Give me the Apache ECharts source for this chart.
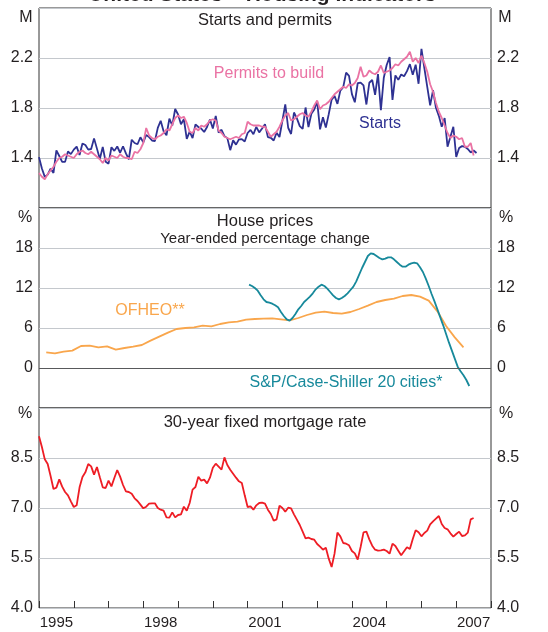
<!DOCTYPE html>
<html><head><meta charset="utf-8">
<script src="https://cdn.jsdelivr.net/npm/echarts/dist/echarts.min.js"></script>
<style>html,body{margin:0;padding:0;background:#fff}#c{width:548px;height:632px}</style>
</head><body><div id="c"></div><script>
// ---- Data ----
const yearLabels = ['1995','1996','1997','1998','1999','2000','2001','2002','2003','2004','2005','2006','2007'];
const monthlyStart = 1995; // monthly series begin Jan 1995

// Housing starts, millions (annualised), Jan 1995 - Aug 2007
const starts = [
 1.407,1.316,1.249,1.267,1.314,1.281,1.461,1.416,1.369,1.369,1.452,1.431,
 1.467,1.491,1.424,1.516,1.504,1.467,1.472,1.557,1.475,1.392,1.489,1.370,
 1.355,1.486,1.457,1.492,1.442,1.494,1.437,1.390,1.546,1.520,1.510,1.566,
 1.525,1.584,1.567,1.540,1.536,1.641,1.698,1.614,1.582,1.715,1.660,1.792,
 1.748,1.670,1.710,1.553,1.611,1.559,1.669,1.648,1.635,1.608,1.648,1.708,
 1.636,1.737,1.604,1.626,1.575,1.559,1.463,1.541,1.507,1.549,1.551,1.532,
 1.600,1.625,1.590,1.649,1.605,1.636,1.670,1.567,1.562,1.540,1.602,1.568,
 1.698,1.829,1.642,1.592,1.764,1.717,1.655,1.633,1.804,1.648,1.753,1.788,
 1.853,1.629,1.726,1.643,1.751,1.867,1.897,1.833,1.939,1.967,2.083,2.057,
 1.911,1.846,1.998,2.003,1.981,1.828,2.002,2.024,1.905,2.072,1.782,2.042,
 2.144,2.207,1.864,2.061,2.025,2.068,2.054,2.095,2.151,2.065,2.147,1.994,
 2.273,2.119,1.969,1.821,1.942,1.802,1.737,1.650,1.720,1.491,1.570,1.649,
 1.409,1.480,1.495,1.490,1.472,1.445,1.460,1.440
];
// Building permits, millions (annualised), Jan 1995 - Jul 2007
const permits = [
 1.28,1.25,1.23,1.27,1.30,1.33,1.37,1.40,1.41,1.43,1.42,1.41,
 1.40,1.43,1.45,1.46,1.44,1.43,1.45,1.43,1.41,1.39,1.36,1.40,
 1.38,1.42,1.41,1.40,1.43,1.41,1.40,1.40,1.39,1.45,1.44,1.47,
 1.52,1.64,1.58,1.56,1.55,1.57,1.58,1.60,1.63,1.62,1.67,1.72,
 1.74,1.72,1.73,1.68,1.61,1.60,1.64,1.62,1.66,1.65,1.67,1.70,
 1.71,1.70,1.62,1.60,1.57,1.56,1.55,1.56,1.57,1.56,1.59,1.60,
 1.69,1.67,1.66,1.66,1.66,1.65,1.65,1.61,1.57,1.59,1.61,1.65,
 1.70,1.74,1.76,1.70,1.71,1.73,1.75,1.76,1.74,1.73,1.77,1.82,
 1.86,1.79,1.82,1.83,1.85,1.88,1.91,1.93,1.95,1.97,1.96,1.99,
 1.98,2.00,2.04,2.13,2.05,2.06,2.10,2.08,2.07,2.09,2.14,2.08,
 2.09,2.10,2.12,2.15,2.14,2.17,2.19,2.21,2.25,2.17,2.20,2.16,
 2.22,2.16,2.09,1.99,1.93,1.84,1.77,1.72,1.66,1.60,1.56,1.58,
 1.57,1.55,1.56,1.49,1.49,1.52,1.42
];
// OFHEO house prices, year-ended % change, quarterly 1995Q1 - 2007Q1
const ofheo = [
 2.35,2.2,2.45,2.6, 3.3,3.35,3.1,3.25, 2.75,3.0,3.2,3.45, 4.1,4.7,5.3,5.85,
 6.0,6.1,6.35,6.25, 6.6,6.85,6.95,7.25, 7.35,7.4,7.45,7.3, 7.15,7.5,7.95,8.3,
 8.45,8.25,8.15,8.4, 8.85,9.35,9.9,10.2, 10.4,10.8,10.95,10.7, 10.1,8.5,6.3,4.6, 3.1
];
// S&P/Case-Shiller 20 cities, year-ended % change, monthly Jan 2001 - May 2007
const caseShillerStart = 2001;
const caseShiller = [
 12.5,12.3,12.0,11.6,10.9,10.3,9.9,9.8,9.65,9.4,9.1,8.4,
 7.8,7.3,7.1,7.5,8.1,8.8,9.3,9.9,10.3,10.7,11.2,11.8,
 12.2,12.5,12.3,11.9,11.4,10.9,10.5,10.3,10.5,10.8,11.2,11.7,
 12.2,13.0,14.0,15.0,15.9,16.8,17.2,17.1,16.8,16.5,16.3,16.4,
 16.6,16.6,16.3,15.9,15.5,15.2,15.2,15.5,15.7,15.8,15.7,15.1,
 14.4,13.4,12.3,11.1,10.0,8.8,7.6,6.4,5.1,3.8,2.6,1.4,
 0.2,-0.5,-1.1,-1.8,-2.7
];
// 30-year fixed mortgage rate, %, monthly Jan 1995 - Jul 2007
const mortgage = [
 9.15,8.83,8.46,8.32,7.96,7.57,7.61,7.86,7.64,7.48,7.38,7.20,
 7.03,7.08,7.62,7.93,8.07,8.32,8.25,8.00,8.23,7.92,7.62,7.60,
 7.82,7.65,7.90,8.14,7.94,7.69,7.50,7.48,7.43,7.29,7.21,7.10,
 6.99,7.04,7.13,7.14,7.14,7.00,6.95,6.92,6.72,6.71,6.87,6.72,
 6.79,6.81,7.04,6.92,7.15,7.55,7.63,7.94,7.82,7.85,7.74,7.91,
 8.21,8.33,8.24,8.15,8.52,8.29,8.15,8.03,7.91,7.80,7.75,7.38,
 7.03,7.05,6.95,7.08,7.15,7.16,7.13,6.95,6.82,6.62,6.66,7.07,
 7.00,6.89,7.01,6.99,6.81,6.65,6.49,6.29,6.09,6.11,6.07,6.05,
 5.92,5.84,5.75,5.81,5.48,5.23,5.63,6.26,6.15,5.95,5.93,5.88,
 5.71,5.64,5.45,5.83,6.27,6.29,6.06,5.87,5.75,5.72,5.73,5.75,
 5.71,5.63,5.93,5.86,5.72,5.58,5.70,5.82,5.77,6.07,6.33,6.27,
 6.15,6.25,6.32,6.51,6.60,6.68,6.76,6.52,6.40,6.36,6.24,6.14,
 6.22,6.29,6.16,6.18,6.26,6.66,6.70
];
const ticksTop = [1.4,1.8,2.2];
const ticksMid = [0,6,12,18];
const ticksBot = [4.0,5.5,7.0,8.5];

// ---- Build ----
const monthly = (arr, y0) => arr.map((v,i) => [y0 + i/12, v]);
const monthlyMid = (arr, y0) => arr.map((v,i) => [y0 + (i+0.5)/12, v]);
const quarterly = (arr, y0) => arr.map((v,i) => [y0 + (3*i+2.5)/12, v]);

const FONT = '"Liberation Sans", Arial, Helvetica, sans-serif';
const TXT = '#231f20';
const GRIDC = '#c4c8cd';
const L = 39, R = 57;

function yAx(gi, pos, min, max, interval, show, dec, split) {
  return {
    type:'value', gridIndex:gi, position:pos, min, max, interval,
    axisLine:{show:false}, axisTick:{show:false},
    splitLine:{show:split, lineStyle:{color:GRIDC, width:1}},
    axisLabel:{
      color:TXT, fontSize:16, fontFamily:FONT, margin:6,
      formatter: v => show.some(s => Math.abs(s - v) < 1e-6) ? v.toFixed(dec) : ''
    }
  };
}
function xVal(gi) {
  return {type:'value', gridIndex:gi, min:1995, max:2008, show:false};
}
function line(name, data, xi, yi, color, extra) {
  return Object.assign({
    name, type:'line', data, xAxisIndex:xi, yAxisIndex:yi,
    showSymbol:false, symbol:'none', silent:true,
    lineStyle:{color, width:1.8}, itemStyle:{color}
  }, extra || {});
}
function txt(text, x, y, size, color, align, weight) {
  return {type:'text', x, y, silent:true, z:100, style:{
    text, fill:color || TXT, fontSize:size, fontFamily:FONT,
    fontWeight: weight || 'normal', align: align || 'center', verticalAlign:'middle'}};
}

const option = {
  animation:false,
  backgroundColor:'#fff',
  grid:[
    {left:L, right:R, top:8, height:200, show:true, borderColor:'#333', borderWidth:1},
    {left:L, right:R, top:208, height:200, show:true, borderColor:'#333', borderWidth:1},
    {left:L, right:R, top:408, height:200, show:true, borderColor:'#333', borderWidth:1}
  ],
  xAxis:[
    xVal(0), xVal(1), xVal(2),
    {type:'category', gridIndex:2, data:yearLabels, position:'bottom', boundaryGap:true,
     axisLine:{show:false},
     axisTick:{show:true, inside:true, length:7, interval:0, lineStyle:{color:'#333'}},
     axisLabel:{interval:2, color:TXT, fontSize:15, fontFamily:FONT, margin:7},
     splitLine:{show:false}}
  ],
  yAxis:[
    yAx(0,'left',1.0,2.6,0.4,ticksTop,1,true),
    yAx(0,'right',1.0,2.6,0.4,ticksTop,1,false),
    yAx(1,'left',-6,24,6,ticksMid,0,true),
    yAx(1,'right',-6,24,6,ticksMid,0,false),
    yAx(2,'left',4.0,10.0,1.5,ticksBot,1,true),
    yAx(2,'right',4.0,10.0,1.5,ticksBot,1,false)
  ],
  series:[
    line('Starts', monthly(starts, monthlyStart), 0, 0, '#2e3192'),
    line('Permits to build', monthly(permits, monthlyStart), 0, 0, '#ea73a4'),
    line('OFHEO**', quarterly(ofheo, monthlyStart), 1, 2, '#f9a64c', {
      markLine:{silent:true, symbol:'none', label:{show:false},
        lineStyle:{color:'#58595b', width:1.2, type:'solid'}, data:[{yAxis:0}]}
    }),
    line('S&P/Case-Shiller 20 cities*', monthlyMid(caseShiller, caseShillerStart), 1, 2, '#17899b'),
    line('30-year fixed mortgage rate', monthly(mortgage, monthlyStart), 2, 4, '#ee1d25')
  ],
  graphic:[
    txt('United States – Housing Indicators', 262, -5, 21, TXT, 'center', 'bold'),
    txt('M', 26, 18, 16), txt('M', 505, 18, 16),
    txt('%', 25, 218, 16), txt('%', 506, 218, 16),
    txt('%', 25, 414, 16), txt('%', 506, 414, 16),
    txt('Starts and permits', 265, 20, 16.5),
    txt('House prices', 265, 221, 16.5),
    txt('Year-ended percentage change', 265, 239, 15),
    txt('30-year fixed mortgage rate', 265, 422, 16.5),
    txt('Permits to build', 269, 74, 16, '#ea73a4'),
    txt('Starts', 380, 124, 16, '#2e3192'),
    txt('OFHEO**', 150, 311, 16, '#f9a64c'),
    txt('S&P/Case-Shiller 20 cities*', 346, 383, 16, '#17899b')
  ]
};
const chart = echarts.init(document.getElementById('c'), null, {renderer:'canvas'});
chart.setOption(option);
</script></body></html>
